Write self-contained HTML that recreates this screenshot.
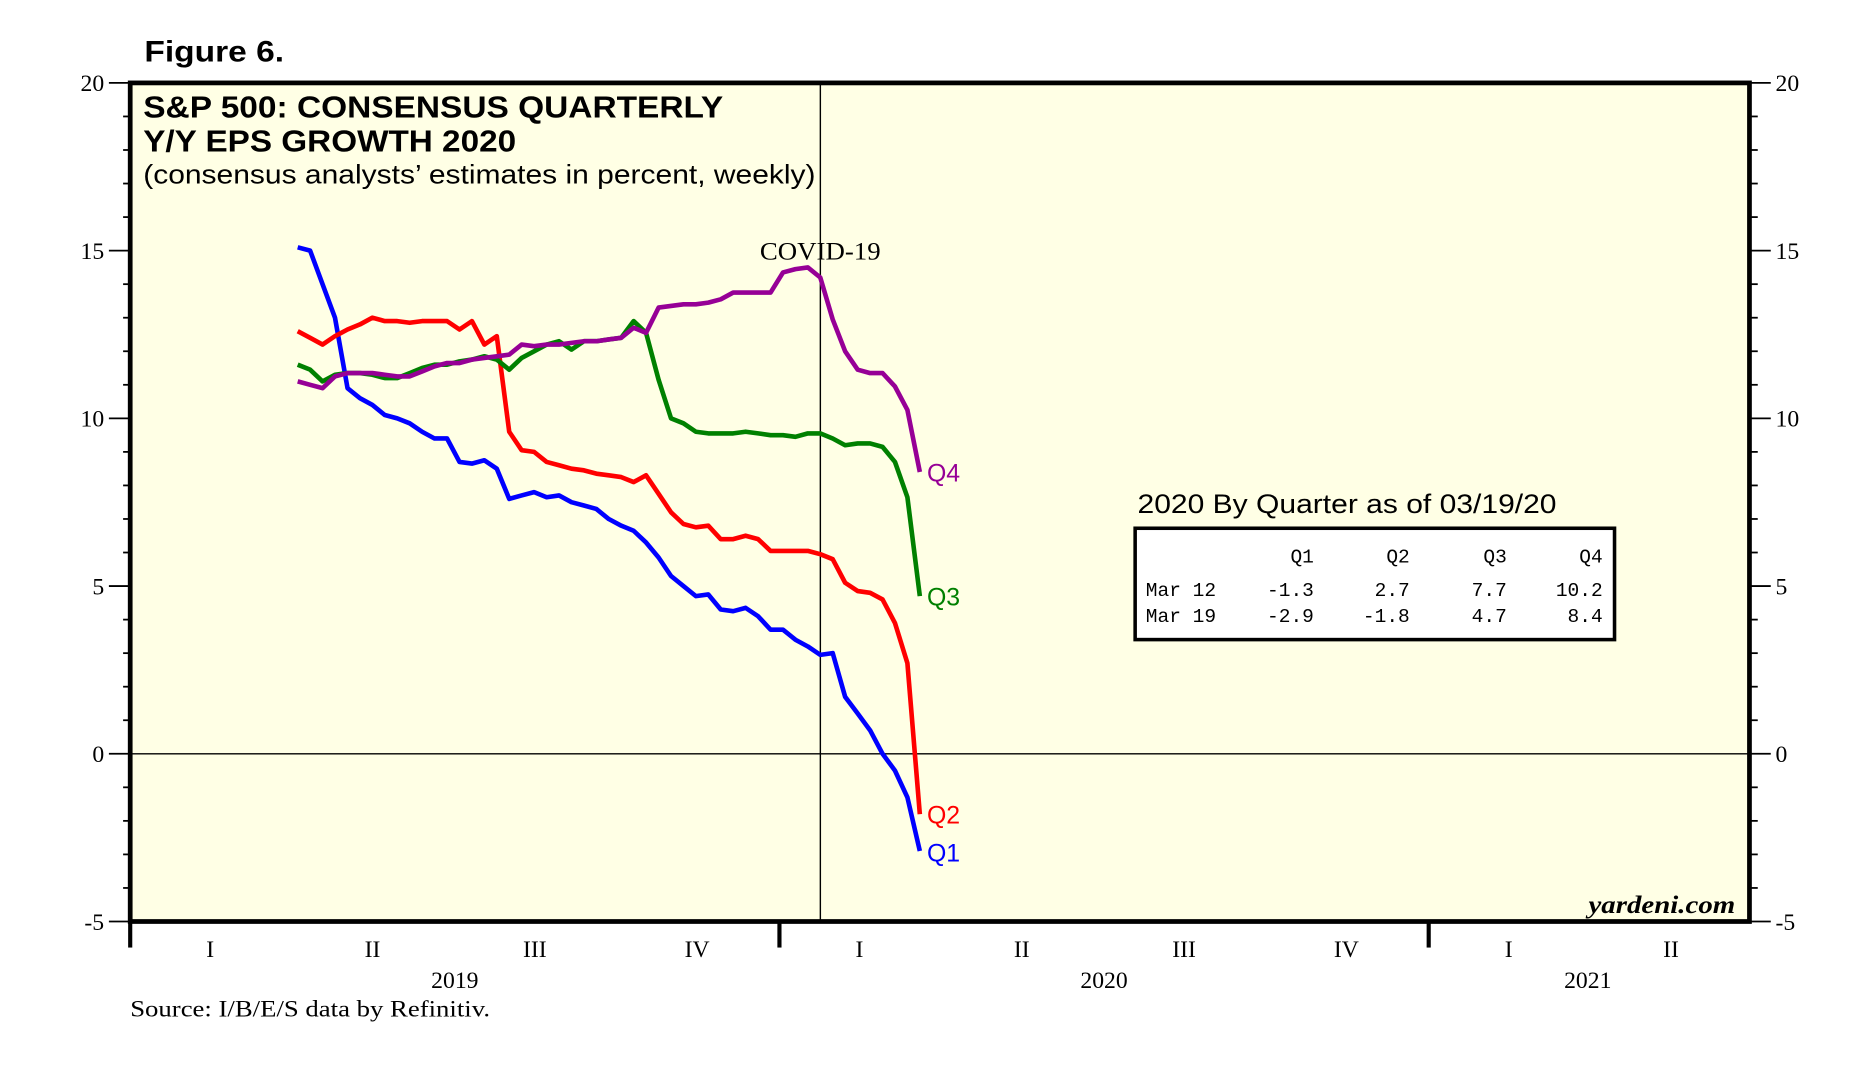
<!DOCTYPE html>
<html><head><meta charset="utf-8">
<style>
html,body{margin:0;padding:0;background:#fff;}
svg{display:block;}
</style></head>
<body>
<svg id="chart" width="1856" height="1066" viewBox="0 0 1568 900" preserveAspectRatio="none" xmlns="http://www.w3.org/2000/svg">
<text x="122" y="52" font-family="Liberation Sans, sans-serif" font-weight="bold" font-size="25" textLength="118" lengthAdjust="spacingAndGlyphs">Figure 6.</text>
<rect x="110" y="70" width="1368" height="708" fill="#ffffe5"/>
<g id="grid"></g>
<g id="series"></g>
<rect x="110" y="70" width="1368" height="708" fill="none" stroke="#000" stroke-width="4"/>
<text x="121" y="99" font-family="Liberation Sans, sans-serif" font-weight="bold" font-size="26" textLength="490" lengthAdjust="spacingAndGlyphs">S&amp;P 500: CONSENSUS QUARTERLY</text>
<text x="121" y="128" font-family="Liberation Sans, sans-serif" font-weight="bold" font-size="26" textLength="315" lengthAdjust="spacingAndGlyphs">Y/Y EPS GROWTH 2020</text>
<text x="121" y="155" font-family="Liberation Sans, sans-serif" font-size="23" textLength="568" lengthAdjust="spacingAndGlyphs">(consensus analysts’ estimates in percent, weekly)</text>
<text x="693" y="219" text-anchor="middle" font-family="Liberation Serif, serif" font-size="21" textLength="102" lengthAdjust="spacingAndGlyphs">COVID-19</text>
<text x="1466" y="771" text-anchor="end" font-family="Liberation Serif, serif" font-style="italic" font-weight="bold" font-size="21" textLength="124" lengthAdjust="spacingAndGlyphs">yardeni.com</text>
<g>
<text x="961" y="433" font-family="Liberation Sans, sans-serif" font-size="23" textLength="354" lengthAdjust="spacingAndGlyphs">2020 By Quarter as of 03/19/20</text>
<rect x="959" y="446" width="405" height="94" fill="#fff" stroke="#000" stroke-width="3"/>
<g font-family="Liberation Mono, monospace" font-size="16.5" text-anchor="end">
<text x="1110" y="475">Q1</text>
<text x="1191" y="475">Q2</text>
<text x="1273" y="475">Q3</text>
<text x="1354" y="475">Q4</text>
<text x="968" y="503" text-anchor="start">Mar 12</text>
<text x="1110" y="503">-1.3</text>
<text x="1191" y="503">2.7</text>
<text x="1273" y="503">7.7</text>
<text x="1354" y="503">10.2</text>
<text x="968" y="525" text-anchor="start">Mar 19</text>
<text x="1110" y="525">-2.9</text>
<text x="1191" y="525">-1.8</text>
<text x="1273" y="525">4.7</text>
<text x="1354" y="525">8.4</text>
</g></g>
<g id="axes"></g>
<text x="110" y="858" font-family="Liberation Serif, serif" font-size="20" textLength="304" lengthAdjust="spacingAndGlyphs">Source: I/B/E/S data by Refinitiv.</text>
</svg>
<script>
const NS='http://www.w3.org/2000/svg';
const startDate=2019.258; // first weekly observation (early Apr 2019)
const weekStep=7/365.25;
const q1Values=[15.1,15.0,14.0,13.0,10.9,10.6,10.4,10.1,10.0,9.85,9.6,9.4,9.4,8.7,8.65,8.75,8.5,7.6,7.7,7.8,7.65,7.7,7.5,7.4,7.3,7.0,6.8,6.65,6.3,5.85,5.3,5.0,4.7,4.75,4.3,4.25,4.35,4.1,3.7,3.7,3.4,3.2,2.95,3.0,1.7,1.2,0.7,0.0,-0.5,-1.3,-2.9];
const q2Values=[12.6,12.4,12.2,12.45,12.65,12.8,13.0,12.9,12.9,12.85,12.9,12.9,12.9,12.65,12.9,12.2,12.45,9.6,9.05,9.0,8.7,8.6,8.5,8.45,8.35,8.3,8.25,8.1,8.3,7.75,7.2,6.85,6.75,6.8,6.4,6.4,6.5,6.4,6.05,6.05,6.05,6.05,5.95,5.8,5.1,4.85,4.8,4.6,3.9,2.7,-1.8];
const q3Values=[11.6,11.45,11.1,11.3,11.35,11.35,11.3,11.2,11.2,11.35,11.5,11.6,11.6,11.7,11.75,11.85,11.75,11.45,11.8,12.0,12.2,12.3,12.05,12.3,12.3,12.35,12.4,12.9,12.55,11.15,10.0,9.85,9.6,9.55,9.55,9.55,9.6,9.55,9.5,9.5,9.45,9.55,9.55,9.4,9.2,9.25,9.25,9.15,8.7,7.65,4.7];
const q4Values=[11.1,11.0,10.9,11.25,11.35,11.35,11.35,11.3,11.25,11.25,11.4,11.55,11.65,11.65,11.75,11.8,11.85,11.9,12.2,12.15,12.2,12.2,12.25,12.3,12.3,12.35,12.4,12.7,12.55,13.3,13.35,13.4,13.4,13.45,13.55,13.75,13.75,13.75,13.75,14.35,14.45,14.5,14.2,12.95,12.0,11.45,11.35,11.35,10.95,10.25,8.4];
const seriesNames=['Q1','Q2','Q3','Q4'];
const seriesColors=['#0000ff','#ff0000','#008000','#960096'];
const yTicks=[-5,0,5,10,15,20];
const quarterLabels=['I','II','III','IV','I','II','III','IV','I','II'];
const yearLabels=['2019','2020','2021'];
const covidDate=2020.063;

const X0=110,X1=1478,Y0=70,Y1=778;
function xs(t){return X0+(t-2019)*548.5;}
function ys(v){return Y1-(v-(-5))/25*(Y1-Y0);}
function mk(tag,attrs,parent){const e=document.createElementNS(NS,tag);for(const k in attrs)e.setAttribute(k,attrs[k]);parent.appendChild(e);return e;}
const grid=document.getElementById('grid'),series=document.getElementById('series'),axes=document.getElementById('axes');

let z=mk('line',{x1:X0,x2:X1,y1:ys(0),y2:ys(0),stroke:'#000','stroke-width':1.2},grid);


let cv=mk('line',{x1:xs(covidDate),x2:xs(covidDate),y1:Y0,y2:Y1,stroke:'#000','stroke-width':1.2},grid);



const allVals=[q1Values,q2Values,q3Values,q4Values];
const labelOffsets=[9,8,8,8];
allVals.forEach((vals,si)=>{
  const pts=vals.map((v,i)=>xs(startDate+i*weekStep).toFixed(1)+','+ys(v).toFixed(1)).join(' ');
  const pl=mk('polyline',{points:pts,fill:'none',stroke:seriesColors[si],'stroke-width':3.9,'stroke-linejoin':'round'},series);
  
  
  const li=vals.length-1;
  const t=mk('text',{x:xs(startDate+li*weekStep)+6,y:ys(vals[li])+labelOffsets[si],fill:seriesColors[si],'font-family':'Liberation Sans, sans-serif','font-size':21},series);
  t.textContent=seriesNames[si];
  
  
});

for(let v=-5;v<=20;v++){
  const major=v%5===0;
  const y=ys(v);
  const l=mk('line',{x1:major?92:104,x2:X0,y1:y,y2:y,stroke:'#000','stroke-width':1.5},axes);
  
  
  const r=mk('line',{x1:X1,x2:major?1496:1485,y1:y,y2:y,stroke:'#000','stroke-width':1.5},axes);
  
  
}
yTicks.forEach(v=>{
  const y=ys(v)+7;
  const a=mk('text',{x:88,y:y,'text-anchor':'end','font-family':'Liberation Serif, serif','font-size':20},axes);
  a.textContent=String(v);
  
  
  const b=mk('text',{x:1500,y:y,'text-anchor':'start','font-family':'Liberation Serif, serif','font-size':20},axes);
  b.textContent=String(v);
  
  
});
yearLabels.forEach((yl,i)=>{
  const x=xs(2019+i);
  const tk=mk('line',{x1:x,x2:x,y1:Y1,y2:800,stroke:'#000','stroke-width':3.5},axes);
  
  
  const t=mk('text',{x:xs(2019+i+(i===2?0.245:0.5)),y:834,'text-anchor':'middle','font-family':'Liberation Serif, serif','font-size':20},axes);
  t.textContent=yl;
  
  
});
quarterLabels.forEach((q,i)=>{
  const t=mk('text',{x:xs(2019+i*0.25+0.125)-1,y:808,'text-anchor':'middle','font-family':'Liberation Serif, serif','font-size':20},axes);
  t.textContent=q;
  
  
});
</script>
</body></html>
